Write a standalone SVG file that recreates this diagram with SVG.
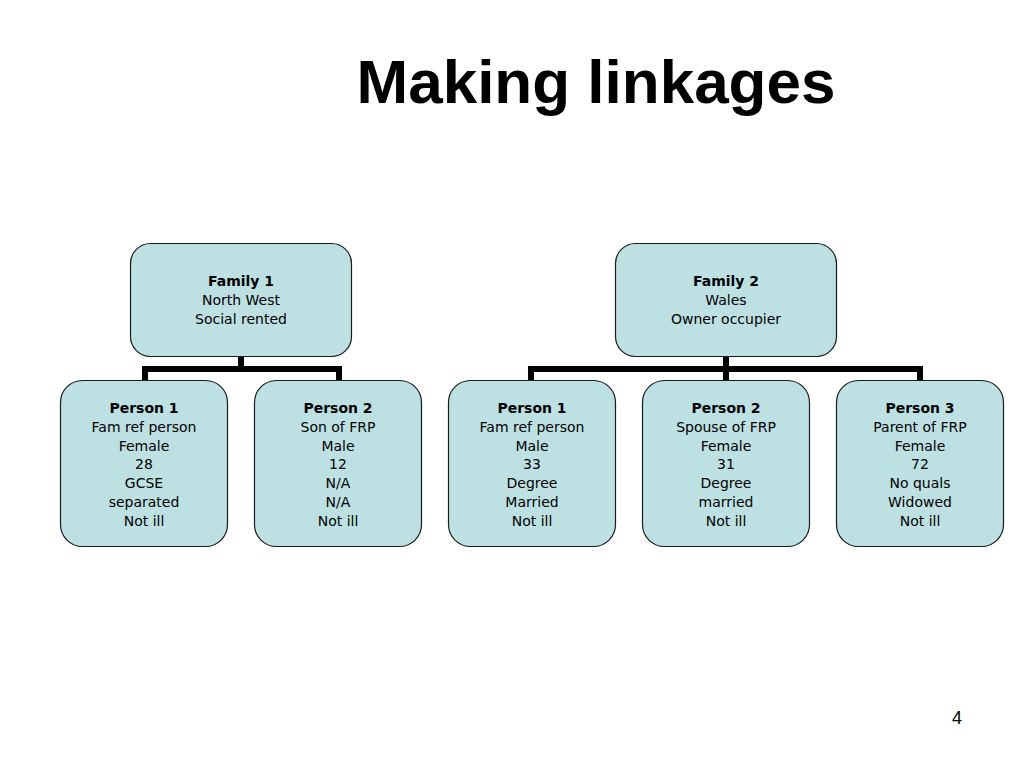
<svg xmlns="http://www.w3.org/2000/svg" width="1024" height="768" viewBox="0 0 1024 768">
<style>
.box{fill:#bde0e3;stroke:#1a1a1a;stroke-width:1.2}
.t{font-family:"DejaVu Sans",Verdana,sans-serif;font-size:14px;fill:#000;text-anchor:middle}
.b{font-weight:bold}
.c{fill:none;stroke:#000;stroke-width:6;stroke-linecap:butt;stroke-linejoin:miter}
</style>
<rect width="1024" height="768" fill="#fff"/>
<text x="596" y="103" font-family="'Liberation Sans',Arial,sans-serif" font-size="62" font-weight="bold" text-anchor="middle" fill="#000">Making linkages</text>
<text x="957" y="724" font-family="'Liberation Sans',Arial,sans-serif" font-size="18" text-anchor="middle" fill="#000">4</text>

<g id="connectors">
<path class="c" d="M241,356 V369 M145,381 V369 H339 V381"/>
<path class="c" d="M726,356 V381 M531,381 V369 H920 V381"/>
</g>

<g id="family1">
<rect class="box" x="130.5" y="243.5" width="221" height="113" rx="20"/>
<text class="t b" x="241" y="286">Family 1</text>
<text class="t" x="241" y="305">North West</text>
<text class="t" x="241" y="324">Social rented</text>
</g>
<g id="f1p1">
<rect class="box" x="60.5" y="380.5" width="167" height="166" rx="22"/>
<text class="t b" x="144" y="413">Person 1</text>
<text class="t" x="144" y="432">Fam ref person</text>
<text class="t" x="144" y="451">Female</text>
<text class="t" x="144" y="469">28</text>
<text class="t" x="144" y="488">GCSE</text>
<text class="t" x="144" y="507">separated</text>
<text class="t" x="144" y="526">Not ill</text>
</g>
<g id="f1p2">
<rect class="box" x="254.5" y="380.5" width="167" height="166" rx="22"/>
<text class="t b" x="338" y="413">Person 2</text>
<text class="t" x="338" y="432">Son of FRP</text>
<text class="t" x="338" y="451">Male</text>
<text class="t" x="338" y="469">12</text>
<text class="t" x="338" y="488">N/A</text>
<text class="t" x="338" y="507">N/A</text>
<text class="t" x="338" y="526">Not ill</text>
</g>

<g id="family2">
<rect class="box" x="615.5" y="243.5" width="221" height="113" rx="20"/>
<text class="t b" x="726" y="286">Family 2</text>
<text class="t" x="726" y="305">Wales</text>
<text class="t" x="726" y="324">Owner occupier</text>
</g>
<g id="f2p1">
<rect class="box" x="448.5" y="380.5" width="167" height="166" rx="22"/>
<text class="t b" x="532" y="413">Person 1</text>
<text class="t" x="532" y="432">Fam ref person</text>
<text class="t" x="532" y="451">Male</text>
<text class="t" x="532" y="469">33</text>
<text class="t" x="532" y="488">Degree</text>
<text class="t" x="532" y="507">Married</text>
<text class="t" x="532" y="526">Not ill</text>
</g>
<g id="f2p2">
<rect class="box" x="642.5" y="380.5" width="167" height="166" rx="22"/>
<text class="t b" x="726" y="413">Person 2</text>
<text class="t" x="726" y="432">Spouse of FRP</text>
<text class="t" x="726" y="451">Female</text>
<text class="t" x="726" y="469">31</text>
<text class="t" x="726" y="488">Degree</text>
<text class="t" x="726" y="507">married</text>
<text class="t" x="726" y="526">Not ill</text>
</g>
<g id="f2p3">
<rect class="box" x="836.5" y="380.5" width="167" height="166" rx="22"/>
<text class="t b" x="920" y="413">Person 3</text>
<text class="t" x="920" y="432">Parent of FRP</text>
<text class="t" x="920" y="451">Female</text>
<text class="t" x="920" y="469">72</text>
<text class="t" x="920" y="488">No quals</text>
<text class="t" x="920" y="507">Widowed</text>
<text class="t" x="920" y="526">Not ill</text>
</g>
</svg>
